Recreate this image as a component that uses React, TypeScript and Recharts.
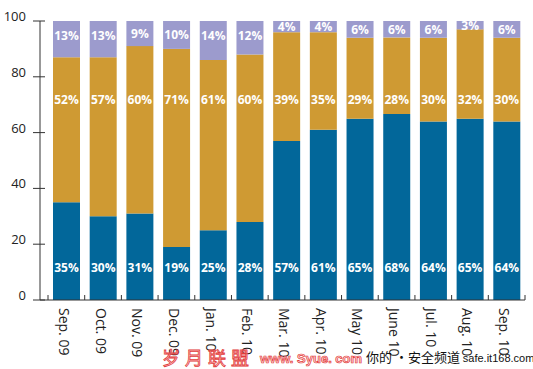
import React from 'react';
import { BarChart, Bar, XAxis, YAxis, LabelList } from 'recharts';

const months = ['Sep. 09', 'Oct. 09', 'Nov. 09', 'Dec. 09', 'Jan. 10', 'Feb. 10', 'Mar. 10', 'Apr. 10', 'May 10', 'June 10', 'Jul. 10', 'Aug. 10', 'Sep. 10'];
const bluePct = [35, 30, 31, 19, 25, 28, 57, 61, 65, 68, 64, 65, 64];
const orangePct = [52, 57, 60, 71, 61, 60, 39, 35, 29, 28, 30, 32, 30];
const purplePct = [13, 13, 9, 10, 14, 12, 4, 4, 6, 6, 6, 3, 6];
const yTicks = [0, 0.2, 0.4, 0.6, 0.8, 1];

const BLUE = '#02679a';
const ORANGE = '#cf9a33';
const PURPLE = '#9c9bcd';
const AXIS = '#333';

const PLOT_TOP = 21;
const PLOT_BOTTOM = 300;
const PLOT_H = PLOT_BOTTOM - PLOT_TOP;
const BAND = (525 - 48) / months.length;

const data = months.map((m, i) => ({
  name: m,
  blue: bluePct[i],
  orange: orangePct[i],
  purple: purplePct[i],
}));

const labelStyle = {
  fill: '#fff',
  fontSize: 12,
  fontWeight: 700,
  fontFamily: '"Open Sans", sans-serif',
};

const makeLabel = (arr: number[], kind: string) => (props: any) => {
  const { x, y, width, height, index } = props;
  let ly = 0;
  if (kind === 'blue') ly = PLOT_BOTTOM - 33;
  else if (kind === 'orange') ly = PLOT_TOP + 0.28 * PLOT_H;
  else ly = Math.min(y + height / 2, y + 14);
  return (
    <text x={x + width / 2} y={ly} textAnchor="middle" dominantBaseline="central" {...labelStyle}>
      {arr[index]}%
    </text>
  );
};

const XTick = (props: any) => {
  const { x, payload, index } = props;
  return (
    <g>
      <line x1={x + BAND / 2} x2={x + BAND / 2} y1={PLOT_BOTTOM} y2={PLOT_BOTTOM - 5} stroke={AXIS} />
      {index === 0 && (
        <line x1={x - BAND / 2} x2={x - BAND / 2} y1={PLOT_BOTTOM} y2={PLOT_BOTTOM - 5} stroke={AXIS} />
      )}
      <text
        x={x - 2}
        y={PLOT_BOTTOM + 8}
        transform={`rotate(90, ${x - 2}, ${PLOT_BOTTOM + 8})`}
        textAnchor="start"
        dominantBaseline="central"
        fill="#222"
        fontSize={14}
        fontFamily='"Open Sans", sans-serif'
      >
        {payload.value}
      </text>
    </g>
  );
};

const YTick = (props: any) => {
  const { y, payload } = props;
  return (
    <g>
      <line x1={33} x2={45} y1={y} y2={y} stroke={AXIS} />
      <text
        x={26}
        y={y - 5}
        textAnchor="end"
        dominantBaseline="central"
        fill="#222"
        fontSize={13}
        fontFamily='"Open Sans", sans-serif'
      >
        {Math.round(payload.value * 100)}
      </text>
    </g>
  );
};

export default function App() {
  return (
    <div style={{ position: 'absolute', left: 0, top: 0, width: 533, height: 369, background: '#fff', overflow: 'hidden' }}>
      <BarChart
        width={533}
        height={369}
        data={data}
        stackOffset="expand"
        margin={{ top: PLOT_TOP, right: 8, bottom: 0, left: 0 }}
      >
        <XAxis
          dataKey="name"
          padding={{ left: 8, right: 0 }}
          height={69}
          interval={0}
          tickLine={false}
          axisLine={{ stroke: AXIS }}
          tick={<XTick />}
        />
        <YAxis
          width={40}
          domain={[0, 1]}
          ticks={yTicks}
          tickLine={false}
          axisLine={{ stroke: AXIS }}
          tick={<YTick />}
        />
        <Bar dataKey="blue" stackId="a" fill={BLUE} barSize={27} isAnimationActive={false}>
          <LabelList dataKey="blue" content={makeLabel(bluePct, 'blue')} />
        </Bar>
        <Bar dataKey="orange" stackId="a" fill={ORANGE} barSize={27} isAnimationActive={false}>
          <LabelList dataKey="orange" content={makeLabel(orangePct, 'orange')} />
        </Bar>
        <Bar dataKey="purple" stackId="a" fill={PURPLE} barSize={27} isAnimationActive={false}>
          <LabelList dataKey="purple" content={makeLabel(purplePct, 'purple')} />
        </Bar>
      </BarChart>
      <div
        style={{
          position: 'absolute',
          left: 162,
          top: 347,
          fontSize: 18,
          letterSpacing: 5,
          fontFamily: '"Noto Sans CJK SC", sans-serif',
          color: 'rgba(255,190,190,0.6)',
          WebkitTextStroke: '0.8px #e23a3a',
          lineHeight: '20px',
          whiteSpace: 'nowrap',
        }}
      >
        岁月联盟
      </div>
      <div
        style={{
          position: 'absolute',
          left: 260,
          top: 350,
          fontSize: 13,
          fontWeight: 700,
          fontFamily: '"Liberation Sans", sans-serif',
          color: 'rgba(255,190,190,0.6)',
          WebkitTextStroke: '0.7px #e23a3a',
          lineHeight: '18px',
          whiteSpace: 'nowrap',
        }}
      >
        www. Syue. com
      </div>
      <div
        style={{
          position: 'absolute',
          left: 366,
          top: 349,
          fontSize: 13,
          fontFamily: '"Noto Sans CJK SC", sans-serif',
          color: '#111',
          lineHeight: '16px',
          whiteSpace: 'nowrap',
        }}
      >
        你的 •安全频道 <span style={{ fontSize: 11, fontFamily: '"Liberation Sans", sans-serif' }}>safe.it168.com</span>
      </div>
    </div>
  );
}
